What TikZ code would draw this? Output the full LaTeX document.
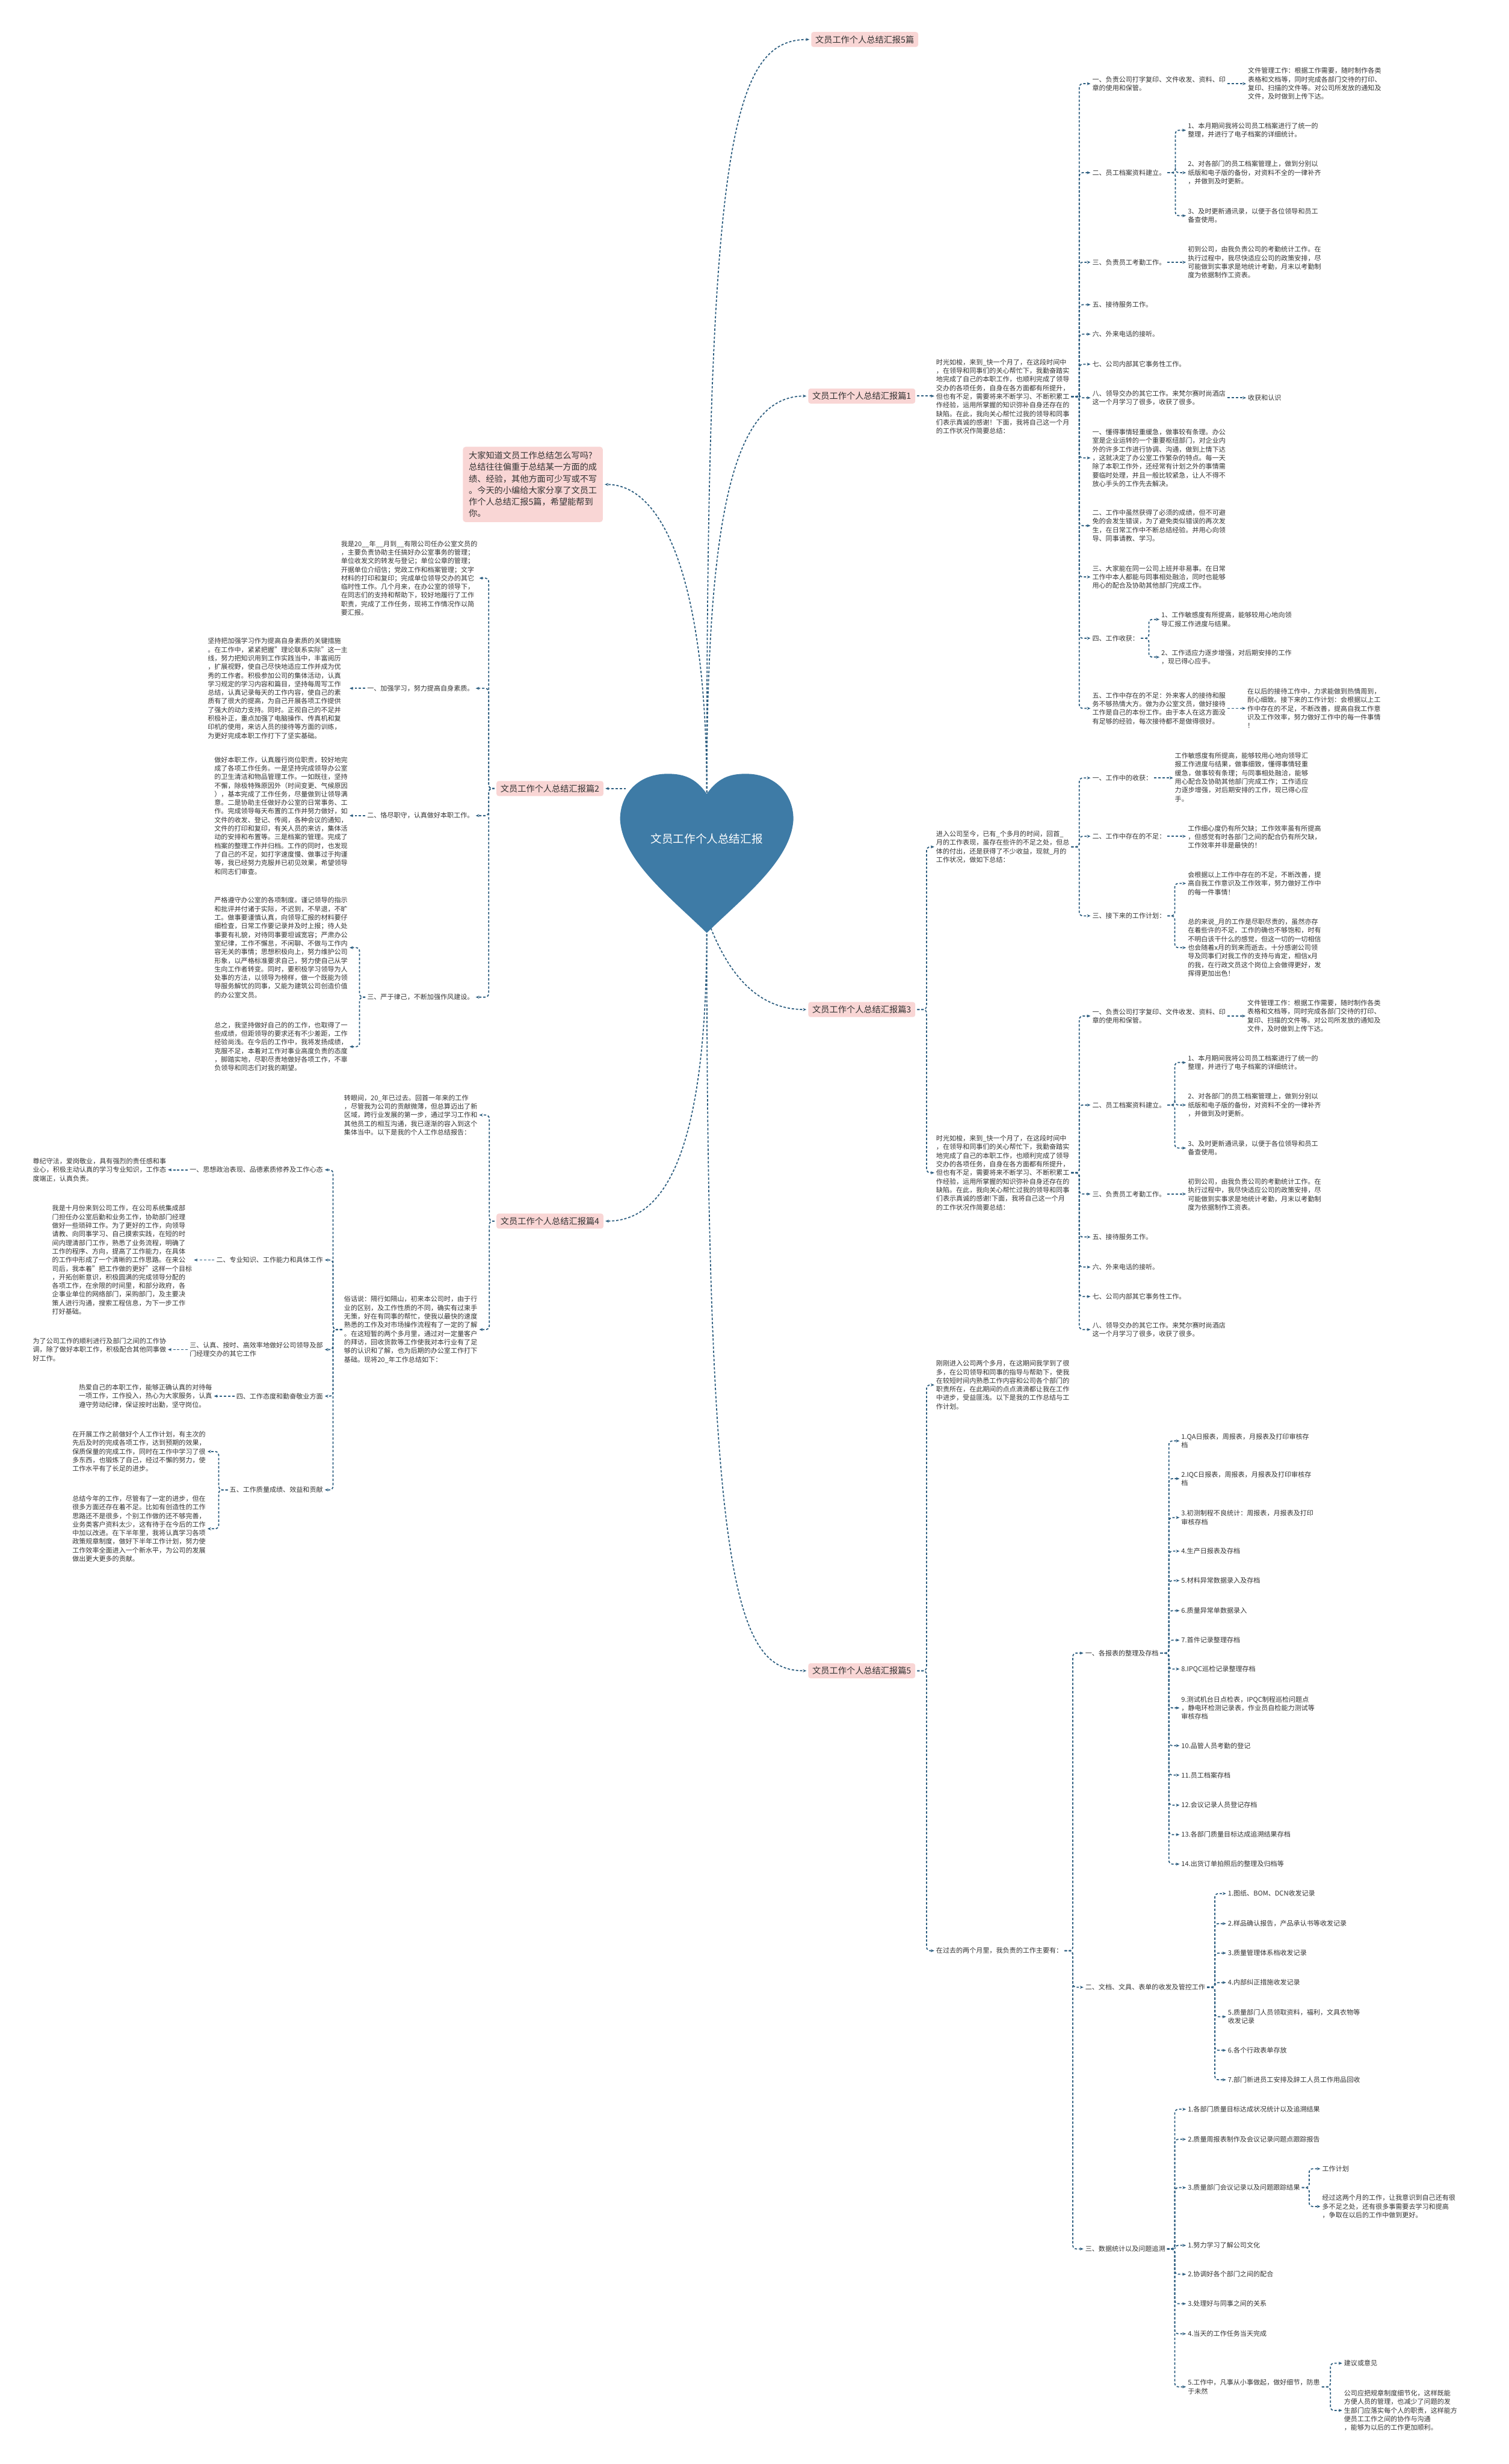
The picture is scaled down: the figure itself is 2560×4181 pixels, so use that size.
\documentclass[tikz,border=0pt]{standalone}
\usepackage{fontspec}
\setmainfont{Noto Sans CJK SC}
\usetikzlibrary{arrows.meta}
\definecolor{cn}{HTML}{2D5E80}
\definecolor{heartc}{HTML}{3E7BA6}
\definecolor{pk}{HTML}{F9D6D5}
\definecolor{tx}{HTML}{333333}
\newcommand\bfz{\fontsize{11.3}{14.6}\selectfont}
\newcommand\lfz{\fontsize{14.5}{19.7}\selectfont}
\newcommand\edgeR[3]{\path (#1,0) coordinate (bx); \draw[cnx] ([xshift=3pt]#2.east) -- (#2.east -| bx) |- (#3.west);}
\newcommand\edgeL[3]{\path (#1,0) coordinate (bx); \draw[cnx] ([xshift=-3pt]#2.west) -- (#2.west -| bx) |- (#3.east);}
\newcommand\lineR[2]{\draw[cnx] ([xshift=3pt]#1.east) -- (#1.east -| #2.west);}
\newcommand\lineL[2]{\draw[cnx] ([xshift=-3pt]#1.west) -- (#1.west -| #2.east);}
\begin{document}
\begin{tikzpicture}[x=1pt,y=-1pt,
 cnx/.style={draw=cn,line width=1.8pt,dash pattern=on 4pt off 3pt,rounded corners=6pt,-{Stealth[length=6pt,width=5pt]},shorten >=3pt},
 t/.style={inner sep=0pt,align=left,font=\bfz,text=tx},
 tl/.style={t,anchor=west},
 tr/.style={t,anchor=east},
 br/.style={fill=pk,rounded corners=4pt,inner xsep=7pt,inner ysep=6pt,font=\lfz,text=tx}]
\useasboundingbox (0,0) rectangle (2560,4181);
\fill[white] (0,0) rectangle (2560,4181);

% ---------- main labels ----------
\node[br] (b0) at (1467,67) {文员工作个人总结汇报5篇};
\node[br] (b1) at (1462,672) {文员工作个人总结汇报篇1};
\node[br] (b2) at (933,1338) {文员工作个人总结汇报篇2};
\node[br] (b3) at (1462,1713) {文员工作个人总结汇报篇3};
\node[br] (b4) at (933,2072) {文员工作个人总结汇报篇4};
\node[br] (b5) at (1462,2835) {文员工作个人总结汇报篇5};
\node[fill=pk,rounded corners=5pt,inner xsep=10pt,inner ysep=8pt,font=\lfz,text=tx,align=left] (callout) at (904,822) {大家知道文员工作总结怎么写吗?\\总结往往偏重于总结某一方面的成\\绩、经验，其他方面可少写或不写\\。今天的小编给大家分享了文员工\\作个人总结汇报5篇，希望能帮到\\你。};

% ---------- heart connectors ----------
\coordinate (htop) at (1199,1345);
\coordinate (hbot) at (1199,1578);
\coordinate (hbr) at (1206,1575);
\coordinate (hleft) at (1062,1338);
\draw[cnx] (htop) .. controls (1199,250) and (1240,67) .. (b0.west);
\draw[cnx] (htop) .. controls (1199,850) and (1250,672) .. (b1.west);
\draw[cnx] (htop) .. controls (1199,1000) and (1130,822) .. (callout.east);
\draw[cnx] (hleft) -- (b2.east);
\draw[cnx] (hbr) .. controls (1240,1660) and (1290,1713) .. (b3.west);
\draw[cnx] (hbot) .. controls (1199,1950) and (1130,2072) .. (b4.east);
\draw[cnx] (hbot) .. controls (1199,2700) and (1250,2835) .. (b5.west);

\fill[heartc] (1199,1347) .. controls (1180,1320) and (1160,1313) .. (1133,1313) .. controls (1080,1313) and (1052,1350) .. (1052,1390) .. controls (1055,1460) and (1140,1525) .. (1199,1583) .. controls (1258,1525) and (1343,1460) .. (1346,1390) .. controls (1346,1350) and (1318,1313) .. (1265,1313) .. controls (1238,1313) and (1218,1320) .. (1199,1347) -- cycle;
\node[font=\fontsize{19}{22}\selectfont,text=white] (center) at (1199,1423) {文员工作个人总结汇报};

% ---------- branch 1 ----------
\node[tl] (p1) at (1588,673) {时光如梭，来到\_快一个月了，在这段时间中\\，在领导和同事们的关心帮忙下，我勤奋踏实\\地完成了自己的本职工作，也顺利完成了领导\\交办的各项任务，自身在各方面都有所提升，\\但也有不足，需要将来不断学习、不断积累工\\作经验，运用所掌握的知识弥补自身还存在的\\缺陷。在此，我向关心帮忙过我的领导和同事\\们表示真诚的感谢！下面，我将自己这一个月\\的工作状况作简要总结：};
\node[tl] (a1) at (1853,142) {一、负责公司打字复印、文件收发、资料、印\\章的使用和保管。};
\node[tl] (a1t) at (2117,142) {文件管理工作：根据工作需要，随时制作各类\\表格和文档等，同时完成各部门交待的打印、\\复印、扫描的文件等。对公司所发放的通知及\\文件，及时做到上传下达。};
\node[tl] (a2) at (1853,293) {二、员工档案资料建立。};
\node[tl] (a21) at (2015,221) {1、本月期间我将公司员工档案进行了统一的\\整理，并进行了电子档案的详细统计。};
\node[tl] (a22) at (2015,293) {2、对各部门的员工档案管理上，做到分别以\\纸版和电子版的备份，对资料不全的一律补齐\\，并做到及时更新。};
\node[tl] (a23) at (2015,366) {3、及时更新通讯录，以便于各位领导和员工\\备查使用。};
\node[tl] (a3) at (1853,445) {三、负责员工考勤工作。};
\node[tl] (a3t) at (2015,445) {初到公司，由我负责公司的考勤统计工作。在\\执行过程中，我尽快适应公司的政策安排，尽\\可能做到实事求是地统计考勤，月末以考勤制\\度为依据制作工资表。};
\node[tl] (a5) at (1853,517) {五、接待服务工作。};
\node[tl] (a6) at (1853,567) {六、外来电话的接听。};
\node[tl] (a7) at (1853,618) {七、公司内部其它事务性工作。};
\node[tl] (a8) at (1853,675) {八、领导交办的其它工作。来梵尔赛时尚酒店\\这一个月学习了很多，收获了很多。};
\node[tl] (a8t) at (2117,675) {收获和认识};
\node[tl] (a9) at (1853,777) {一、懂得事情轻重缓急，做事较有条理。办公\\室是企业运转的一个重要枢纽部门，对企业内\\外的许多工作进行协调、沟通，做到上情下达\\，这就决定了办公室工作繁杂的特点。每一天\\除了本职工作外，还经常有计划之外的事情需\\要临时处理，并且一般比较紧急，让人不得不\\放心手头的工作先去解决。};
\node[tl] (a10) at (1853,892) {二、工作中虽然获得了必须的成绩，但不可避\\免的会发生错误，为了避免类似错误的再次发\\生，在日常工作中不断总结经验。并用心向领\\导、同事请教、学习。};
\node[tl] (a11) at (1853,979) {三、大家能在同一公司上班并非易事。在日常\\工作中本人都能与同事相处融洽，同时也能够\\用心的配合及协助其他部门完成工作。};
\node[tl] (a12) at (1853,1083) {四、工作收获：};
\node[tl] (a121) at (1970,1051) {1、工作敏感度有所提高，能够较用心地向领\\导汇报工作进度与结果。};
\node[tl] (a122) at (1970,1115) {2、工作适应力逐步增强，对后期安排的工作\\，现已得心应手。};
\node[tl] (a13) at (1853,1202) {五、工作中存在的不足：外来客人的接待和服\\务不够热情大方。做为办公室文员，做好接待\\工作是自己的本份工作。由于本人在这方面没\\有足够的经验，每次接待都不是做得很好。};
\node[tl] (a13t) at (2116,1202) {在以后的接待工作中，力求能做到热情周到，\\耐心细致。接下来的工作计划：会根据以上工\\作中存在的不足，不断改善，提高自我工作意\\识及工作效率，努力做好工作中的每一件事情\\！};
\lineR{b1}{p1}
\foreach \c in {a1,a2,a3,a5,a6,a7,a8,a9,a10,a11,a12,a13} {\edgeR{1831}{p1}{\c}}
\lineR{a1}{a1t}
\foreach \c in {a21,a22,a23} {\edgeR{1994}{a2}{\c}}
\lineR{a3}{a3t}
\lineR{a8}{a8t}
\foreach \c in {a121,a122} {\edgeR{1949}{a12}{\c}}
\lineR{a13}{a13t}

% ---------- branch 2 ----------
\node[tr] (c1) at (810,981) {我是20\_\_年\_\_月到\_\_有限公司任办公室文员的\\，主要负责协助主任搞好办公室事务的管理；\\单位收发文的转发与登记；单位公章的管理；\\开据单位介绍信；党政工作和档案管理；文字\\材料的打印和复印；完成单位领导交办的其它\\临时性工作。几个月来，在办公室的领导下，\\在同志们的支持和帮助下，较好地履行了工作\\职责，完成了工作任务，现将工作情况作以简\\要汇报。};
\node[tr] (c2) at (804,1168) {一、加强学习，努力提高自身素质。};
\node[tr] (c2t) at (590,1168) {坚持把加强学习作为提高自身素质的关键措施\\。在工作中，紧紧把握"理论联系实际"这一主\\线，努力把知识用到工作实践当中，丰富阅历\\，扩展视野，使自己尽快地适应工作并成为优\\秀的工作者。积极参加公司的集体活动，认真\\学习规定的学习内容和篇目，坚持每周写工作\\总结，认真记录每天的工作内容，使自己的素\\质有了很大的提高，为自己开展各项工作提供\\了强大的动力支持。同时。正视自己的不足并\\积极补正，重点加强了电脑操作、传真机和复\\印机的使用，来访人员的接待等方面的训练，\\为更好完成本职工作打下了坚实基础。};
\node[tr] (c3) at (804,1384) {二、恪尽职守，认真做好本职工作。};
\node[tr] (c3t) at (590,1384) {做好本职工作，认真履行岗位职责，较好地完\\成了各项工作任务。一是坚持完成领导办公室\\的卫生清洁和物品管理工作。一如既往，坚持\\不懈，除极特殊原因外（时间变更、气候原因\\），基本完成了工作任务，尽量做到让领导满\\意。二是协助主任做好办公室的日常事务、工\\作。完成领导每天布置的工作并努力做好，如\\文件的收发、登记、传阅，各种会议的通知，\\文件的打印和复印，有关人员的来访，集体活\\动的安排和布置等。三是档案的管理。完成了\\档案的整理工作并归档。工作的同时，也发现\\了自己的不足，如打字速度慢、做事过于拘谨\\等，我已经努力克服并已初见效果，希望领导\\和同志们审查。};
\node[tr] (c4) at (804,1692) {三、严于律己，不断加强作风建设。};
\node[tr] (c41) at (590,1608) {严格遵守办公室的各项制度。谨记领导的指示\\和批评并付诸于实际，不迟到，不早退，不旷\\工。做事要谨慎认真，向领导汇报的材料要仔\\细检查，日常工作要记录并及时上报；待人处\\事要有礼貌，对待同事要坦诚宽容；严肃办公\\室纪律，工作不懈怠，不闲聊、不做与工作内\\容无关的事情；思想积极向上，努力维护公司\\形象，以严格标准要求自己，努力使自己从学\\生向工作者转变。同时，要积极学习领导为人\\处事的方法，以领导为榜样，做一个既能为领\\导服务解忧的同事，又能为建筑公司创造价值\\的办公室文员。};
\node[tr] (c42) at (590,1776) {总之，我坚持做好自己的的工作，也取得了一\\些成绩，但距领导的要求还有不少差距，工作\\经验尚浅。在今后的工作中，我将发扬成绩，\\克服不足，本着对工作对事业高度负责的态度\\，脚踏实地，尽职尽责地做好各项工作，不辜\\负领导和同志们对我的期望。};
\foreach \c in {c1,c2,c3,c4} {\edgeL{829}{b2}{\c}}
\lineL{c2}{c2t}
\lineL{c3}{c3t}
\foreach \c in {c41,c42} {\edgeL{610}{c4}{\c}}

% ---------- branch 3 ----------
\node[tl] (d1) at (1588,1437) {进入公司至今，已有\_个多月的时间，回首\_\\月的工作表现，虽存在些许的不足之处，但总\\体的付出，还是获得了不少收益，现就\_月的\\工作状况，做如下总结：};
\node[tl] (d11) at (1853,1320) {一、工作中的收获：};
\node[tl] (d11t) at (1993,1319) {工作敏感度有所提高，能够较用心地向领导汇\\报工作进度与结果，做事细致，懂得事情轻重\\缓急，做事较有条理；与同事相处融洽，能够\\用心配合及协助其他部门完成工作；工作适应\\力逐步增强，对后期安排的工作，现已得心应\\手。};
\node[tl] (d12) at (1853,1419) {二、工作中存在的不足：};
\node[tl] (d12t) at (2015,1420) {工作细心度仍有所欠缺；工作效率虽有所提高\\，但感觉有时各部门之间的配合仍有所欠缺，\\工作效率并非是最快的！};
\node[tl] (d13) at (1853,1554) {三、接下来的工作计划：};
\node[tl] (d131) at (2015,1499) {会根据以上工作中存在的不足，不断改善，提\\高自我工作意识及工作效率，努力做好工作中\\的每一件事情！};
\node[tl] (d132) at (2015,1608) {总的来说\_月的工作是尽职尽责的，虽然亦存\\在着些许的不足，工作的确也不够饱和，时有\\不明白该干什么的感觉，但这一切的一切相信\\也会随着x月的到来而逝去。十分感谢公司领\\导及同事们对我工作的支持与肯定，相信x月\\的我，在行政文员这个岗位上会做得更好，发\\挥得更加出色！};
\node[tl] (d2) at (1588,1990) {时光如梭，来到\_快一个月了，在这段时间中\\，在领导和同事们的关心帮忙下，我勤奋踏实\\地完成了自己的本职工作，也顺利完成了领导\\交办的各项任务，自身在各方面都有所提升，\\但也有不足，需要将来不断学习、不断积累工\\作经验，运用所掌握的知识弥补自身还存在的\\缺陷。在此，我向关心帮忙过我的领导和同事\\们表示真诚的感谢!下面，我将自己这一个月\\的工作状况作简要总结：};
\node[tl] (e1) at (1853,1724) {一、负责公司打字复印、文件收发、资料、印\\章的使用和保管。};
\node[tl] (e1t) at (2116,1724) {文件管理工作：根据工作需要，随时制作各类\\表格和文档等，同时完成各部门交待的打印、\\复印、扫描的文件等。对公司所发放的通知及\\文件，及时做到上传下达。};
\node[tl] (e2) at (1853,1875) {二、员工档案资料建立。};
\node[tl] (e21) at (2015,1803) {1、本月期间我将公司员工档案进行了统一的\\整理，并进行了电子档案的详细统计。};
\node[tl] (e22) at (2015,1875) {2、对各部门的员工档案管理上，做到分别以\\纸版和电子版的备份，对资料不全的一律补齐\\，并做到及时更新。};
\node[tl] (e23) at (2015,1948) {3、及时更新通讯录，以便于各位领导和员工\\备查使用。};
\node[tl] (e3) at (1853,2026) {三、负责员工考勤工作。};
\node[tl] (e3t) at (2015,2027) {初到公司，由我负责公司的考勤统计工作。在\\执行过程中，我尽快适应公司的政策安排，尽\\可能做到实事求是地统计考勤，月末以考勤制\\度为依据制作工资表。};
\node[tl] (e5) at (1853,2099) {五、接待服务工作。};
\node[tl] (e6) at (1853,2150) {六、外来电话的接听。};
\node[tl] (e7) at (1853,2200) {七、公司内部其它事务性工作。};
\node[tl] (e8) at (1853,2256) {八、领导交办的其它工作。来梵尔赛时尚酒店\\这一个月学习了很多，收获了很多。};
\foreach \c in {d1,d2} {\edgeR{1572}{b3}{\c}}
\foreach \c in {d11,d12,d13} {\edgeR{1831}{d1}{\c}}
\lineR{d11}{d11t}
\lineR{d12}{d12t}
\foreach \c in {d131,d132} {\edgeR{1993}{d13}{\c}}
\foreach \c in {e1,e2,e3,e5,e6,e7,e8} {\edgeR{1831}{d2}{\c}}
\lineR{e1}{e1t}
\foreach \c in {e21,e22,e23} {\edgeR{1993}{e2}{\c}}
\lineR{e3}{e3t}

% ---------- branch 4 ----------
\node[tr] (f1) at (810,1892) {转眼间，20\_年已过去。回首一年来的工作\\，尽管我为公司的贡献微薄，但总算迈出了新\\区域，跨行业发展的第一步，通过学习工作和\\其他员工的相互沟通，我已逐渐的容入到这个\\集体当中。以下是我的个人工作总结报告：};
\node[tr] (f2) at (810,2256) {俗话说：隔行如隔山，初来本公司时，由于行\\业的区别，及工作性质的不同，确实有过束手\\无策，好在有同事的帮忙，使我以最快的速度\\熟悉的工作及对市场操作流程有了一定的了解\\。在这短暂的两个多月里，通过对一定量客户\\的拜访，回收货款等工作使我对本行业有了足\\够的认识和了解，也为后期的办公室工作打下\\基础。现将20\_年工作总结如下：};
\node[tr] (g1) at (548,1985) {一、思想政治表现、品德素质修养及工作心态};
\node[tr] (g1t) at (282,1985) {尊纪守法，爱岗敬业，具有强烈的责任感和事\\业心，积极主动认真的学习专业知识，工作态\\度端正，认真负责。};
\node[tr] (g2) at (548,2138) {二、专业知识、工作能力和具体工作};
\node[tr] (g2t) at (326,2138) {我是十月份来到公司工作，在公司系统集成部\\门担任办公室后勤和业务工作，协助部门经理\\做好一些琐碎工作。为了更好的工作，向领导\\请教、向同事学习、自己摸索实践，在短的时\\间内理清部门工作，熟悉了业务流程，明确了\\工作的程序、方向，提高了工作能力，在具体\\的工作中形成了一个清晰的工作思路。在来公\\司后，我本着"把工作做的更好"这样一个目标\\，开拓创新意识，积极圆满的完成领导分配的\\各项工作，在余限的时间里，和部分政府，各\\企事业单位的网络部门，采购部门，及主要决\\策人进行沟通，搜索工程信息，为下一步工作\\打好基础。};
\node[tr] (g3) at (548,2290) {三、认真、按时、高效率地做好公司领导及部\\门经理交办的其它工作};
\node[tr] (g3t) at (282,2290) {为了公司工作的顺利进行及部门之间的工作协\\调，除了做好本职工作，积极配合其他同事做\\好工作。};
\node[tr] (g4) at (548,2369) {四、工作态度和勤奋敬业方面};
\node[tr] (g4t) at (360,2369) {热爱自己的本职工作，能够正确认真的对待每\\一项工作，工作投入，热心为大家服务，认真\\遵守劳动纪律，保证按时出勤，坚守岗位。};
\node[tr] (g5) at (548,2528) {五、工作质量成绩、效益和贡献};
\node[tr] (g51) at (349,2463) {在开展工作之前做好个人工作计划，有主次的\\先后及时的完成各项工作，达到预期的效果，\\保质保量的完成工作，同时在工作中学习了很\\多东西，也锻炼了自己，经过不懈的努力，使\\工作水平有了长足的进步。};
\node[tr] (g52) at (349,2594) {总结今年的工作，尽管有了一定的进步，但在\\很多方面还存在着不足。比如有创造性的工作\\思路还不是很多，个别工作做的还不够完善，\\业务类客户资料太少，这有待于在今后的工作\\中加以改进。在下半年里，我将认真学习各项\\政策规章制度，做好下半年工作计划，努力使\\工作效率全面进入一个新水平，为公司的发展\\做出更大更多的贡献。};
\foreach \c in {f1,f2} {\edgeL{830}{b4}{\c}}
\foreach \c in {g1,g2,g3,g4,g5} {\edgeL{565}{f2}{\c}}
\lineL{g1}{g1t}
\lineL{g2}{g2t}
\lineL{g3}{g3t}
\lineL{g4}{g4t}
\foreach \c in {g51,g52} {\edgeL{371}{g5}{\c}}

% ---------- branch 5 ----------
\node[tl] (h1) at (1588,2350) {刚刚进入公司两个多月，在这期间我学到了很\\多，在公司领导和同事的指导与帮助下，使我\\在较短时间内熟悉工作内容和公司各个部门的\\职责所在，在此期间的点点滴滴都让我在工作\\中进步，受益匪浅。以下是我的工作总结与工\\作计划。};
\node[tl] (h2) at (1588,3310) {在过去的两个月里，我负责的工作主要有：};
\node[tl] (k1) at (1841,2805) {一、各报表的整理及存档};
\node[tl] (k2) at (1841,3372) {二、文档、文具、表单的收发及管控工作};
\node[tl] (k3) at (1841,3816) {三、数据统计以及问题追溯};
\node[tl] (q1) at (2004,2445) {1.QA日报表，周报表，月报表及打印审核存\\档};
\node[tl] (q2) at (2004,2509) {2.IQC日报表，周报表，月报表及打印审核存\\档};
\node[tl] (q3) at (2004,2575) {3.初测制程不良统计：周报表，月报表及打印\\审核存档};
\node[tl] (q4) at (2004,2632) {4.生产日报表及存档};
\node[tl] (q5) at (2004,2682) {5.材料异常数据录入及存档};
\node[tl] (q6) at (2004,2733) {6.质量异常单数据录入};
\node[tl] (q7) at (2004,2783) {7.首件记录整理存档};
\node[tl] (q8) at (2004,2832) {8.IPQC巡检记录整理存档};
\node[tl] (q9) at (2004,2898) {9.测试机台日点检表，IPQC制程巡检问题点\\，静电环检测记录表，作业员自检能力测试等\\审核存档};
\node[tl] (q10) at (2004,2962) {10.品管人员考勤的登记};
\node[tl] (q11) at (2004,3012) {11.员工档案存档};
\node[tl] (q12) at (2004,3063) {12.会议记录人员登记存档};
\node[tl] (q13) at (2004,3113) {13.各部门质量目标达成追溯结果存档};
\node[tl] (q14) at (2004,3163) {14.出货订单拍照后的整理及归档等};
\node[tl] (r1) at (2083,3213) {1.图纸、BOM、DCN收发记录};
\node[tl] (r2) at (2083,3264) {2.样品确认报告，产品承认书等收发记录};
\node[tl] (r3) at (2083,3314) {3.质量管理体系档收发记录};
\node[tl] (r4) at (2083,3364) {4.内部纠正措施收发记录};
\node[tl] (r5) at (2083,3422) {5.质量部门人员领取资料，福利，文具衣物等\\收发记录};
\node[tl] (r6) at (2083,3479) {6.各个行政表单存放};
\node[tl] (r7) at (2083,3529) {7.部门新进员工安排及辞工人员工作用品回收};
\node[tl] (s1) at (2015,3579) {1.各部门质量目标达成状况统计以及追溯结果};
\node[tl] (s2) at (2015,3630) {2.质量周报表制作及会议记录问题点跟踪报告};
\node[tl] (s3) at (2015,3712) {3.质量部门会议记录以及问题跟踪结果};
\node[tl] (s3a) at (2243,3680) {工作计划};
\node[tl] (s3b) at (2243,3744) {经过这两个月的工作，让我意识到自己还有很\\多不足之处，还有很多事需要去学习和提高\\，争取在以后的工作中做到更好。};
\node[tl] (s4) at (2015,3810) {1.努力学习了解公司文化};
\node[tl] (s5) at (2015,3859) {2.协调好各个部门之间的配合};
\node[tl] (s6) at (2015,3909) {3.处理好与同事之间的关系};
\node[tl] (s7) at (2015,3960) {4.当天的工作任务当天完成};
\node[tl] (s8) at (2015,4050) {5.工作中，凡事从小事做起，做好细节，防患\\于未然};
\node[tl] (s8a) at (2280,4010) {建议或意见};
\node[tl] (s8b) at (2280,4090) {公司应把规章制度细节化，这样既能\\方便人员的管理，也减少了问题的发\\生部门应落实每个人的职责，这样能方\\便员工工作之间的协作与沟通\\，能够为以后的工作更加顺利。};
\foreach \c in {h1,h2} {\edgeR{1572}{b5}{\c}}
\foreach \c in {k1,k2,k3} {\edgeR{1820}{h2}{\c}}
\foreach \c in {q1,q2,q3,q4,q5,q6,q7,q8,q9,q10,q11,q12,q13,q14} {\edgeR{1983}{k1}{\c}}
\foreach \c in {r1,r2,r3,r4,r5,r6,r7} {\edgeR{2061}{k2}{\c}}
\foreach \c in {s1,s2,s3,s4,s5,s6,s7,s8} {\edgeR{1993}{k3}{\c}}
\foreach \c in {s3a,s3b} {\edgeR{2221}{s3}{\c}}
\foreach \c in {s8a,s8b} {\edgeR{2257}{s8}{\c}}
\end{tikzpicture}
\end{document}
